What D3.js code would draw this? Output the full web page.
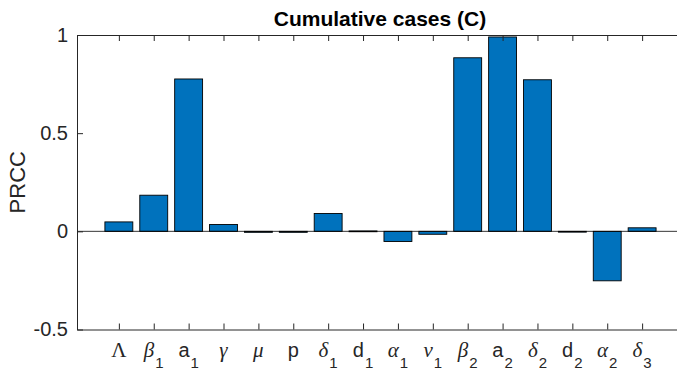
<!DOCTYPE html>
<html>
<head>
<meta charset="utf-8">
<script src="https://cdn.jsdelivr.net/npm/d3@7"></script>
<style>
  html, body { margin: 0; padding: 0; background: #fff; }
  svg { display: block; }
</style>
</head>
<body>
<svg id="chart" width="677" height="372"></svg>
<script>
// ---- data ----
const categories = ["Lambda", "beta1", "a1", "gamma", "mu", "p", "delta1", "d1", "alpha1", "nu1", "beta2", "a2", "delta2", "d2", "alpha2", "delta3"];
// tick label parts
const tickMain = ["Λ", "β", "a", "γ", "μ", "p", "δ", "d", "α", "ν", "β", "a", "δ", "d", "α", "δ"];
const tickSub  = ["",  "1", "1", "",  "",  "",  "1", "1", "1", "1", "2", "2", "2", "2", "2", "3"];
const tickGreek = [true, true, false, true, true, false, true, false, true, true, true, false, true, false, true, true];
const prcc = [0.048, 0.184, 0.776, 0.035, -0.005, -0.005, 0.091, 0.002, -0.052, -0.015, 0.884, 0.990, 0.772, -0.002, -0.252, 0.018];
const yTicks = [-0.5, 0, 0.5, 1];
const yTickLabels = ["-0.5", "0", "0.5", "1"];
const titleText = "Cumulative cases (C)";
const yLabelText = "PRCC";

(function () {
// ---- layout ----
const svg = d3.select("#chart");
const mLeft = 77, mRight = 677, mTop = 35, mBottom = 329.5;
const axisColor = "#262626";
const sans = "'Liberation Sans', Arial, Helvetica, sans-serif";
const serif = "'Liberation Serif', 'Times New Roman', serif";

const x = d3.scaleLinear().domain([-0.2, 17]).range([mLeft, mRight]);
const y = d3.scaleLinear().domain([-0.5, 1]).range([mBottom, mTop]);
const idx = d3.range(1, categories.length + 1);

// bars
svg.append("g").selectAll("rect")
  .data(prcc)
  .join("rect")
  .attr("x", (d, i) => x(i + 1 - 0.4))
  .attr("width", (d, i) => x(i + 1 + 0.4) - x(i + 1 - 0.4))
  .attr("y", d => y(Math.max(0, d)))
  .attr("height", d => Math.max(Math.abs(y(d) - y(0)), 0.8))
  .attr("fill", "#0072BD")
  .attr("stroke", "#000")
  .attr("stroke-width", 0.9);

// baseline
svg.append("line")
  .attr("x1", mLeft).attr("x2", mRight)
  .attr("y1", y(0)).attr("y2", y(0))
  .attr("stroke", "#000").attr("stroke-width", 0.8);

// axes
const xAxisBottom = d3.axisBottom(x).tickValues(idx).tickSizeInner(-6).tickSizeOuter(0).tickFormat("");
const xAxisTop = d3.axisTop(x).tickValues(idx).tickSizeInner(-6).tickSizeOuter(0).tickFormat("");
const yAxis = d3.axisLeft(y).tickValues(yTicks).tickSizeInner(-6).tickSizeOuter(0)
  .tickFormat((d, i) => yTickLabels[i]).tickPadding(9);

const gb = svg.append("g").attr("transform", `translate(0,${mBottom})`).call(xAxisBottom);
const gt = svg.append("g").attr("transform", `translate(0,${mTop})`).call(xAxisTop);
const gl = svg.append("g").attr("transform", `translate(${mLeft},0)`).call(yAxis);

[gb, gt, gl].forEach(g => {
  g.select(".domain").attr("stroke", axisColor).attr("stroke-width", 1);
  g.selectAll(".tick line").attr("stroke", axisColor).attr("stroke-width", 1);
});
gl.selectAll(".tick text")
  .attr("font-family", sans).attr("font-size", 20).attr("fill", axisColor);

// x tick labels with subscripts
const xl = svg.append("g");
idx.forEach((v, i) => {
  const t = xl.append("text")
    .attr("x", x(v))
    .attr("y", 357)
    .attr("text-anchor", "middle")
    .attr("fill", axisColor);
  t.append("tspan")
    .text(tickMain[i])
    .attr("font-size", tickGreek[i] ? 21 : 20)
    .attr("font-family", tickGreek[i] ? serif : sans)
    .attr("font-style", tickGreek[i] && i !== 0 ? "italic" : "normal");
  if (tickSub[i]) {
    t.append("tspan")
      .text(tickSub[i])
      .attr("font-family", sans)
      .attr("font-size", 15)
      .attr("dx", 1)
      .attr("dy", 11);
  }
});

// title
svg.append("text")
  .attr("x", (mLeft + mRight) / 2 + 3)
  .attr("y", 26)
  .attr("text-anchor", "middle")
  .attr("font-family", sans)
  .attr("font-weight", "bold")
  .attr("font-size", 21)
  .attr("fill", "#000")
  .text(titleText);

// y label
svg.append("text")
  .attr("transform", `translate(25,${(mTop + mBottom) / 2}) rotate(-90)`)
  .attr("text-anchor", "middle")
  .attr("font-family", sans)
  .attr("font-size", 22)
  .attr("fill", axisColor)
  .text(yLabelText);
})();
</script>
</body>
</html>
